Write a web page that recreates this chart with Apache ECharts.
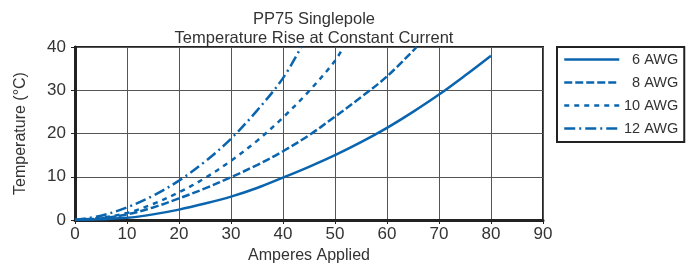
<!DOCTYPE html>
<html>
<head>
<meta charset="utf-8">
<script src="https://cdn.jsdelivr.net/npm/echarts@6/dist/echarts.min.js"></script>
<style>
html,body{margin:0;padding:0;background:#fff;}
#chart{width:691px;height:269px;}
</style>
</head>
<body>
<div id="chart"></div>
<script>
// ---- data ----
var seriesNames = ['6 AWG', '8 AWG', '10 AWG', '12 AWG'];
var xTicks = [0, 10, 20, 30, 40, 50, 60, 70, 80, 90];
var yTicks = [0, 10, 20, 30, 40];

var amps6 = [0, 5, 10, 15, 20, 25, 30, 35, 40, 45, 50, 55, 60, 65, 70, 75, 80];
var temp6 = [0, 0.2, 0.5, 1.3, 2.4, 3.8, 5.4, 7.4, 9.8, 12.3, 15, 18, 21.3, 25, 29, 33.4, 38];

var amps8 = [0, 5, 10, 15, 20, 25, 30, 35, 40, 45, 50, 55, 60, 65.7];
var temp8 = [0, 0.4, 1.3, 2.9, 5, 7.3, 9.9, 12.7, 15.9, 19.6, 23.9, 28.4, 33.2, 40];

var amps10 = [0, 5, 10, 15, 20, 25, 30, 35, 40, 45, 50, 51.6];
var temp10 = [0, 0.5, 1.6, 3.7, 6.4, 9.7, 13.7, 18.3, 23.7, 29.8, 36.8, 40];

var amps12 = [0, 5, 10, 15, 20, 25, 30, 35, 40, 43.5];
var temp12 = [0, 1.0, 2.9, 5.6, 9.1, 13.5, 18.8, 25.3, 32.8, 40];

function pairs(xs, ys) {
  return xs.map(function (x, i) { return [x, ys[i]]; });
}

var FONT = '"Liberation Sans", Arial, sans-serif';
var BLUE = '#0a65ae';
var TXT = '#333';

var chart = echarts.init(document.getElementById('chart'), null, {renderer: 'canvas'});

function mk(name, xs, ys, type) {
  return {
    name: name,
    type: 'line',
    data: pairs(xs, ys),
    smooth: 0.35,
    symbol: 'none',
    showSymbol: false,
    lineStyle: {color: BLUE, width: 2.5, type: type, cap: 'butt'},
    itemStyle: {color: BLUE},
    z: 5
  };
}

chart.setOption({
  animation: false,
  backgroundColor: '#fff',
  title: {
    text: 'PP75 Singlepole\nTemperature Rise at Constant Current',
    left: 309,
    textAlign: 'center',
    top: 5,
    textStyle: {fontFamily: FONT, fontSize: 16.5, fontWeight: 'normal', color: TXT, lineHeight: 19}
  },
  legend: {
    orient: 'vertical',
    left: 557,
    top: 47,
    padding: [5, 6, 6, 6],
    itemWidth: 55,
    itemHeight: 14,
    itemGap: 8,
    borderColor: '#222',
    borderWidth: 2,
    data: seriesNames,
    itemStyle: {opacity: 0},
    lineStyle: {width: 2.5},
    formatter: function (n) { return '{t|' + n + '}'; },
    textStyle: {
      fontFamily: FONT, fontSize: 14, color: TXT,
      rich: {t: {fontFamily: FONT, fontSize: 14.5, color: TXT, width: 54, align: 'right'}}
    }
  },
  grid: {
    left: 75, right: 148, top: 47, bottom: 47,
    show: true, borderColor: '#222', borderWidth: 2, backgroundColor: 'transparent'
  },
  xAxis: {
    type: 'value',
    min: 0, max: 90, interval: 10,
    name: 'Amperes Applied',
    nameLocation: 'middle',
    nameGap: 28,
    nameTextStyle: {fontFamily: FONT, fontSize: 16, color: TXT},
    axisLine: {show: true, lineStyle: {color: '#222', width: 3}},
    axisTick: {show: true, length: 4, lineStyle: {color: '#222', width: 1}},
    axisLabel: {fontFamily: FONT, fontSize: 17, color: TXT, margin: 6,
      formatter: function (v) { return xTicks.indexOf(v) >= 0 ? String(v) : ''; }},
    splitLine: {show: true, lineStyle: {color: '#555', width: 1}}
  },
  yAxis: {
    type: 'value',
    min: 0, max: 40, interval: 10,
    name: 'Temperature (°C)',
    nameLocation: 'middle',
    nameGap: 46,
    nameTextStyle: {fontFamily: FONT, fontSize: 16, color: TXT},
    axisLine: {show: true, lineStyle: {color: '#222', width: 3}},
    axisTick: {show: true, length: 4, lineStyle: {color: '#222', width: 1}},
    axisLabel: {fontFamily: FONT, fontSize: 17, color: TXT, margin: 9, padding: [7, 0, 0, 0],
      formatter: function (v) { return yTicks.indexOf(v) >= 0 ? String(v) : ''; }},
    splitLine: {show: true, lineStyle: {color: '#555', width: 1}}
  },
  series: [
    mk(seriesNames[0], amps6, temp6, 'solid'),
    mk(seriesNames[1], amps8, temp8, [8, 3]),
    mk(seriesNames[2], amps10, temp10, [5, 5]),
    mk(seriesNames[3], amps12, temp12, [11, 4, 2, 4])
  ]
});
</script>
</body>
</html>
